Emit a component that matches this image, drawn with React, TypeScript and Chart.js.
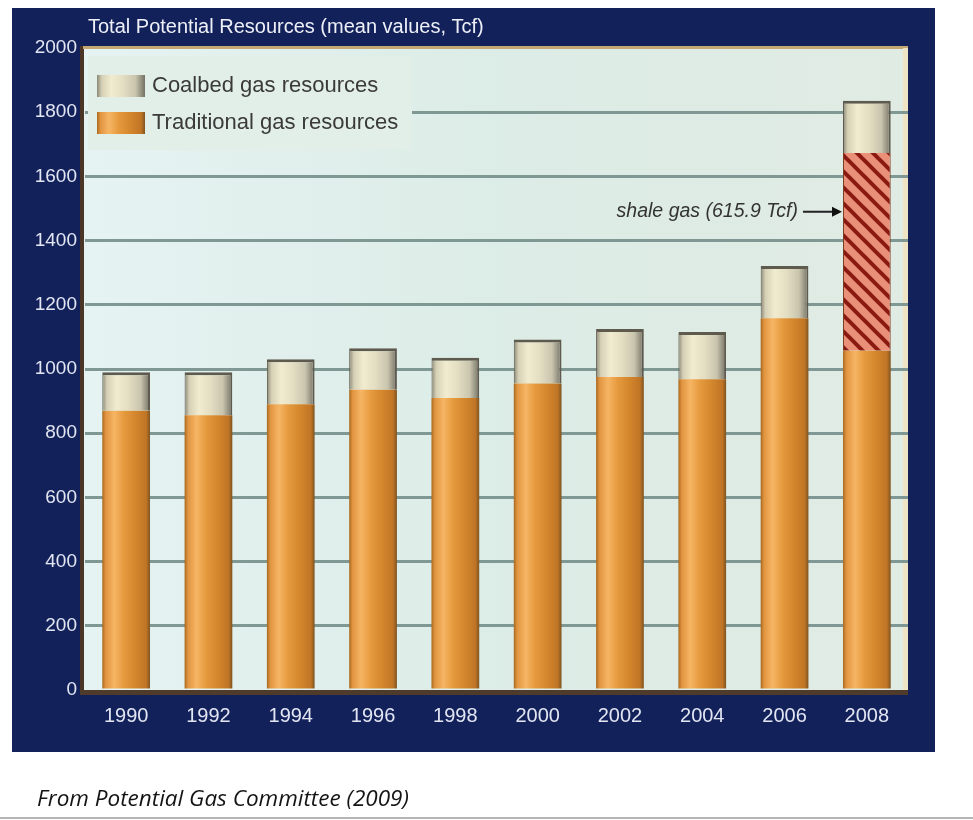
import React, { useEffect, useRef } from "react";
import { Chart, registerables } from "chart.js";

Chart.register(...registerables);

const YEARS = ["1990", "1992", "1994", "1996", "1998", "2000", "2002", "2004", "2006", "2008"];
const TRADITIONAL = [870, 856, 890, 935, 910, 955, 975, 968, 1158, 1057];
const SHALE = [null, null, null, null, null, null, null, null, null, 615.9];
const COALBED = [120, 134, 140, 130, 125, 137, 150, 147, 163, 163];
const Y_MIN = 0;
const Y_MAX = 2000;
const Y_STEP = 200;
const TITLE = "Total Potential Resources (mean values, Tcf)";
const LEGEND_LABELS = ["Coalbed gas resources", "Traditional gas resources"];
const SHALE_LABEL = "shale gas (615.9 Tcf)";
const SHALE_ARROW_VALUE = 1490;
const CAPTION = "From Potential Gas Committee (2009)";

const TRAD_STOPS: [number, string][] = [
  [0, "#a8691f"],
  [0.07, "#e19440"],
  [0.25, "#f6b564"],
  [0.45, "#e69a3e"],
  [0.7, "#d3862c"],
  [0.92, "#c07526"],
  [1, "#7f5420"],
];
const COAL_STOPS: [number, string][] = [
  [0, "#8a8776"],
  [0.1, "#d6d1b6"],
  [0.3, "#f1ebcf"],
  [0.55, "#e3ddc2"],
  [0.8, "#c9c5ae"],
  [1, "#747165"],
];

function makeGradient(c: CanvasRenderingContext2D, x0: number, x1: number, stops: [number, string][]) {
  const g = c.createLinearGradient(x0, 0, x1, 0);
  stops.forEach(([o, col]) => g.addColorStop(o, col));
  return g;
}

function barFill(stops: [number, string][]) {
  return (ctx: any) => {
    const chart = ctx.chart;
    const xs = chart.scales && chart.scales.x;
    if (ctx.type !== "data" || !xs || !chart.chartArea) return stops[2][1];
    const center = xs.getPixelForValue(ctx.dataIndex);
    const w = (xs.width / YEARS.length) * 0.58;
    return makeGradient(chart.ctx, center - w / 2, center + w / 2, stops);
  };
}

function makeStripePattern(): CanvasPattern | string {
  const s = 16;
  const cv = document.createElement("canvas");
  cv.width = s;
  cv.height = s;
  const c = cv.getContext("2d");
  if (!c) return "#e98c72";
  c.fillStyle = "#eb9078";
  c.fillRect(0, 0, s, s);
  c.strokeStyle = "#8a1a12";
  c.lineWidth = 4;
  for (const off of [-s, 0, s]) {
    c.beginPath();
    c.moveTo(off - 2, -2);
    c.lineTo(off + s + 2, s + 2);
    c.stroke();
  }
  const p = c.createPattern(cv, "repeat");
  return p || "#e98c72";
}

const decoPlugin = {
  id: "deco",
  beforeDraw(chart: any) {
    const { ctx, chartArea: a } = chart;
    ctx.save();
    ctx.fillStyle = "#ffffff";
    ctx.fillRect(0, 0, chart.width, chart.height);
    ctx.fillStyle = "#13215a";
    ctx.fillRect(12, 8, 923, 744);
    const g = ctx.createLinearGradient(a.left, 0, a.right, 0);
    g.addColorStop(0, "#e5f3f2");
    g.addColorStop(0.5, "#dcece6");
    g.addColorStop(1, "#e0ebe3");
    ctx.fillStyle = g;
    ctx.fillRect(a.left - 2, a.top, a.right - a.left + 2, a.bottom - a.top);
    ctx.fillStyle = "#4a3526";
    ctx.fillRect(a.left - 5, a.top - 2, 4, a.bottom - a.top + 7);
    ctx.fillStyle = "#c4a873";
    ctx.fillRect(a.left - 2, a.top - 2, a.right - a.left + 2, 3);
    ctx.fillStyle = "#eee3c3";
    ctx.fillRect(a.right - 5, a.top, 5, a.bottom - a.top);
    ctx.fillStyle = "#4e3b2c";
    ctx.fillRect(a.left - 5, a.bottom, a.right - a.left + 5, 5);
    ctx.restore();
  },
  afterDraw(chart: any) {
    const { ctx, chartArea: a, scales } = chart;
    ctx.save();
    // title
    ctx.fillStyle = "#eef0f8";
    ctx.font = "20px 'Liberation Sans', Arial, sans-serif";
    ctx.textBaseline = "middle";
    ctx.textAlign = "left";
    ctx.fillText(TITLE, a.left + 3, 27);

    // legend panel
    ctx.fillStyle = "#e2eee8";
    ctx.fillRect(a.left + 3, a.top + 8, 324, 94);
    const sw = [
      { y: a.top + 27, stops: COAL_STOPS },
      { y: a.top + 64, stops: TRAD_STOPS },
    ];
    sw.forEach((s, i) => {
      const x0 = a.left + 12;
      ctx.fillStyle = makeGradient(ctx, x0, x0 + 48, s.stops);
      ctx.fillRect(x0, s.y, 48, 22);
      ctx.fillStyle = "#3a3a3a";
      ctx.font = "22px 'Liberation Sans', Arial, sans-serif";
      ctx.textBaseline = "middle";
      ctx.fillText(LEGEND_LABELS[i], x0 + 55, s.y + 11);
    });

    // shale annotation
    const meta = chart.getDatasetMeta(1);
    const el = meta.data[SHALE.length - 1] as any;
    if (el) {
      const y = scales.y.getPixelForValue(SHALE_ARROW_VALUE);
      const barLeft = el.x - el.width / 2;
      ctx.fillStyle = "#333333";
      ctx.font = "italic 19.5px 'Liberation Sans', Arial, sans-serif";
      ctx.textAlign = "right";
      ctx.textBaseline = "middle";
      ctx.fillText(SHALE_LABEL, barLeft - 45, y);
      ctx.strokeStyle = "#222222";
      ctx.lineWidth = 2;
      ctx.beginPath();
      ctx.moveTo(barLeft - 40, y);
      ctx.lineTo(barLeft - 8, y);
      ctx.stroke();
      ctx.fillStyle = "#111111";
      ctx.beginPath();
      ctx.moveTo(barLeft - 1, y);
      ctx.lineTo(barLeft - 11, y - 5);
      ctx.lineTo(barLeft - 11, y + 5);
      ctx.closePath();
      ctx.fill();
    }
    ctx.restore();
  },
};

export default function App() {
  const ref = useRef<HTMLCanvasElement | null>(null);

  useEffect(() => {
    const canvas = ref.current;
    if (!canvas) return;
    const stripes = makeStripePattern();
    const chart = new Chart(canvas, {
      type: "bar",
      data: {
        labels: YEARS,
        datasets: [
          {
            label: "Traditional gas resources",
            data: TRADITIONAL,
            backgroundColor: barFill(TRAD_STOPS),
            borderWidth: 0,
            stack: "s",
          },
          {
            label: "Shale gas",
            data: SHALE as any,
            backgroundColor: stripes as any,
            borderWidth: { left: 1, right: 1, top: 0, bottom: 0 } as any,
            borderColor: "#7a3a20",
            borderSkipped: false,
            stack: "s",
          },
          {
            label: "Coalbed gas resources",
            data: COALBED,
            backgroundColor: barFill(COAL_STOPS),
            borderWidth: { top: 3, left: 1, right: 2, bottom: 0 } as any,
            borderColor: "#5e5a4e",
            borderSkipped: false,
            stack: "s",
          },
        ],
      },
      options: {
        responsive: false,
        animation: false,
        devicePixelRatio: 1,
        datasets: { bar: { categoryPercentage: 1, barPercentage: 0.58 } },
        layout: { padding: { left: 0, top: 48, right: 65, bottom: 90 } },
        plugins: { legend: { display: false }, tooltip: { enabled: false }, title: { display: false } },
        scales: {
          x: {
            stacked: true,
            grid: { display: false, drawTicks: false },
            border: { display: false },
            ticks: {
              color: "#e2e6f2",
              padding: 14,
              font: { family: "'Liberation Sans', Arial, sans-serif", size: 20 },
            },
            afterFit: (s: any) => {
              s.height = 40;
            },
          },
          y: {
            stacked: true,
            min: Y_MIN,
            max: Y_MAX,
            grid: {
              drawTicks: false,
              lineWidth: 3,
              color: (c: any) =>
                c.tick && (c.tick.value === Y_MIN || c.tick.value === Y_MAX) ? "rgba(0,0,0,0)" : "#7f9893",
            },
            border: { display: false },
            ticks: {
              stepSize: Y_STEP,
              color: "#e2e6f2",
              padding: 8,
              font: { family: "'Liberation Sans', Arial, sans-serif", size: 19 },
              callback: (v: any) => String(v),
            },
            afterFit: (s: any) => {
              s.width = 85;
            },
          },
        },
      },
      plugins: [decoPlugin],
    });
    return () => chart.destroy();
  }, []);

  return (
    <div style={{ position: "absolute", left: 0, top: 0, width: 973, height: 820, background: "#fff" }}>
      <canvas ref={ref} width={973} height={820} style={{ display: "block" }} />
      <div
        style={{
          position: "absolute",
          left: 37,
          top: 782,
          fontFamily: "'Open Sans', 'Noto Sans', sans-serif",
          fontStyle: "italic",
          fontSize: 22.5,
          color: "#141414",
          whiteSpace: "nowrap",
        }}
      >
        {CAPTION}
      </div>
      <div style={{ position: "absolute", left: 0, top: 817, width: 973, height: 2, background: "#b5b5b5" }} />
    </div>
  );
}
